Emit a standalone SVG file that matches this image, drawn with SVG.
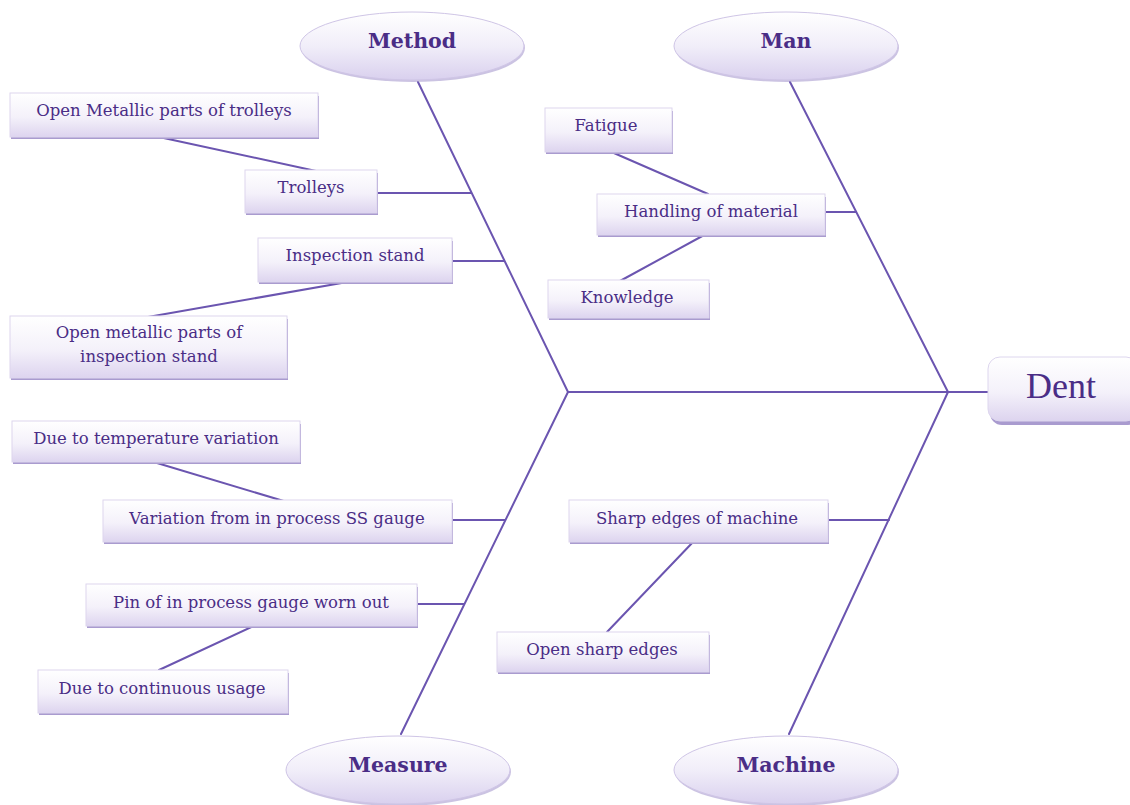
<svg xmlns="http://www.w3.org/2000/svg" width="1130" height="805" viewBox="0 0 1130 805">
<defs>
<linearGradient id="bg" x1="0" y1="0" x2="0" y2="1">
<stop offset="0" stop-color="#ffffff"/>
<stop offset="0.55" stop-color="#f4f1fa"/>
<stop offset="1" stop-color="#ddd4ef"/>
</linearGradient>
<linearGradient id="eg" x1="0" y1="0" x2="0" y2="1">
<stop offset="0" stop-color="#ffffff"/>
<stop offset="0.5" stop-color="#f1eef9"/>
<stop offset="1" stop-color="#d9d0ee"/>
</linearGradient>
<style>
.bx{fill:url(#bg);stroke:#ddd6ee;stroke-width:1}
.sh{fill:#a99bcf}
.el{fill:url(#eg);stroke:#cfc5e6;stroke-width:1}
.t{font-family:"DejaVu Serif","Liberation Serif",serif;font-size:16.5px;fill:#4a2d86;text-anchor:middle}
.h{font-family:"DejaVu Serif","Liberation Serif",serif;font-size:20.5px;font-weight:bold;fill:#4a2d86;text-anchor:middle}
.ln{stroke:#6b55b0;stroke-width:2;fill:none;stroke-linecap:round}
</style>
</defs>
<rect width="1130" height="805" fill="#ffffff"/>
<g id="connectors">
<line class="ln" x1="568" y1="392" x2="990" y2="392"/>
<line class="ln" x1="418" y1="82" x2="568" y2="392"/>
<line class="ln" x1="790" y1="82" x2="948" y2="392"/>
<line class="ln" x1="568" y1="392" x2="401" y2="734"/>
<line class="ln" x1="948" y1="392" x2="789" y2="734"/>
<line class="ln" x1="377" y1="193" x2="471" y2="193"/>
<line class="ln" x1="452" y1="261" x2="504" y2="261"/>
<line class="ln" x1="159" y1="137" x2="316" y2="171"/>
<line class="ln" x1="353" y1="281" x2="148" y2="317"/>
<line class="ln" x1="825" y1="212" x2="856" y2="212"/>
<line class="ln" x1="607" y1="150" x2="708" y2="194"/>
<line class="ln" x1="706" y1="234" x2="620" y2="281"/>
<line class="ln" x1="453" y1="520" x2="505" y2="520"/>
<line class="ln" x1="147" y1="460" x2="287" y2="502"/>
<line class="ln" x1="417" y1="604" x2="464" y2="604"/>
<line class="ln" x1="258" y1="624" x2="159" y2="670"/>
<line class="ln" x1="827" y1="520" x2="889" y2="520"/>
<line class="ln" x1="694" y1="541" x2="607" y2="632"/>
</g>
<g id="method">
<ellipse class="sh" cx="413" cy="48" rx="112" ry="34" opacity="0.6"/>
<ellipse class="el" cx="412" cy="46" rx="112" ry="34"/>
<text class="h" x="412" y="48">Method</text>
</g>
<g id="man">
<ellipse class="sh" cx="787" cy="48" rx="112" ry="34" opacity="0.6"/>
<ellipse class="el" cx="786" cy="46" rx="112" ry="34"/>
<text class="h" x="786" y="48">Man</text>
</g>
<g id="measure">
<ellipse class="sh" cx="399" cy="772" rx="112" ry="34" opacity="0.6"/>
<ellipse class="el" cx="398" cy="770" rx="112" ry="34"/>
<text class="h" x="398" y="772">Measure</text>
</g>
<g id="machine">
<ellipse class="sh" cx="787" cy="772" rx="112" ry="34" opacity="0.6"/>
<ellipse class="el" cx="786" cy="770" rx="112" ry="34"/>
<text class="h" x="786" y="772">Machine</text>
</g>
<g id="dent">
<rect class="sh" x="990" y="359" width="150" height="66" rx="12"/>
<rect class="bx" x="988" y="357" width="150" height="64" rx="12"/>
<text x="1061" y="398" style="font-family:'Liberation Serif',serif;font-size:36px;fill:#4a2d86;text-anchor:middle">Dent</text>
</g>
<g id="open-metallic-trolleys">
<rect class="sh" x="11" y="96" width="308" height="43"/>
<rect class="bx" x="10" y="93" width="308" height="44"/>
<text class="t" x="164" y="116">Open Metallic parts of trolleys</text>
</g>
<g id="trolleys">
<rect class="sh" x="246" y="173" width="132" height="42"/>
<rect class="bx" x="245" y="170" width="132" height="43"/>
<text class="t" x="311" y="193">Trolleys</text>
</g>
<g id="inspection-stand">
<rect class="sh" x="259" y="241" width="194" height="43"/>
<rect class="bx" x="258" y="238" width="194" height="44"/>
<text class="t" x="355" y="261">Inspection stand</text>
</g>
<g id="open-metallic-inspection">
<rect class="sh" x="11" y="319" width="277" height="61"/>
<rect class="bx" x="10" y="316" width="277" height="62"/>
<text class="t" x="149" y="338">Open metallic parts of</text>
<text class="t" x="149" y="362">inspection stand</text>
</g>
<g id="fatigue">
<rect class="sh" x="546" y="111" width="127" height="43"/>
<rect class="bx" x="545" y="108" width="127" height="44"/>
<text class="t" x="606" y="131">Fatigue</text>
</g>
<g id="handling">
<rect class="sh" x="598" y="197" width="228" height="40"/>
<rect class="bx" x="597" y="194" width="228" height="41"/>
<text class="t" x="711" y="217">Handling of material</text>
</g>
<g id="knowledge">
<rect class="sh" x="549" y="283" width="161" height="37"/>
<rect class="bx" x="548" y="280" width="161" height="38"/>
<text class="t" x="627" y="303">Knowledge</text>
</g>
<g id="due-temp">
<rect class="sh" x="13" y="424" width="288" height="40"/>
<rect class="bx" x="12" y="421" width="288" height="41"/>
<text class="t" x="156" y="444">Due to temperature variation</text>
</g>
<g id="variation-ss">
<rect class="sh" x="104" y="503" width="349" height="41"/>
<rect class="bx" x="103" y="500" width="349" height="42"/>
<text class="t" x="277" y="524">Variation from in process SS gauge</text>
</g>
<g id="pin-worn">
<rect class="sh" x="87" y="587" width="331" height="41"/>
<rect class="bx" x="86" y="584" width="331" height="42"/>
<text class="t" x="251" y="608">Pin of in process gauge worn out</text>
</g>
<g id="due-continuous">
<rect class="sh" x="39" y="673" width="250" height="42"/>
<rect class="bx" x="38" y="670" width="250" height="43"/>
<text class="t" x="162" y="694">Due to continuous usage</text>
</g>
<g id="sharp-edges-machine">
<rect class="sh" x="570" y="503" width="259" height="41"/>
<rect class="bx" x="569" y="500" width="259" height="42"/>
<text class="t" x="697" y="524">Sharp edges of machine</text>
</g>
<g id="open-sharp-edges">
<rect class="sh" x="498" y="635" width="212" height="39"/>
<rect class="bx" x="497" y="632" width="212" height="40"/>
<text class="t" x="602" y="655">Open sharp edges</text>
</g>
</svg>
